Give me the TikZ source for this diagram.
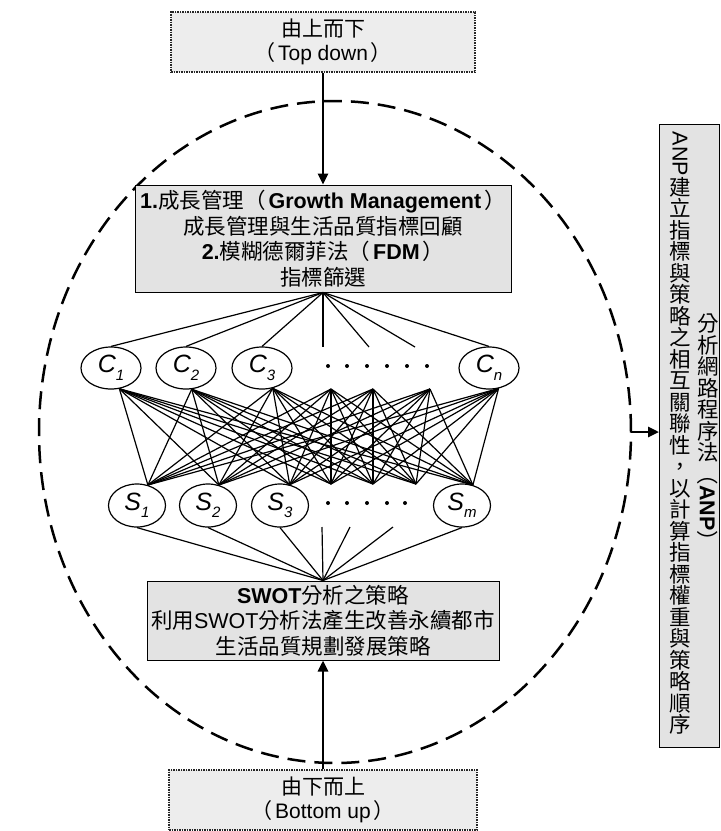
\documentclass[tikz,border=0pt]{standalone}
\usepackage{fontspec}
\setmainfont{Liberation Sans}
\newfontfamily\cjk{Noto Sans CJK TC}
\usetikzlibrary{shapes.geometric,arrows.meta}
\definecolor{boxgray}{HTML}{E3E3E3}
\definecolor{dotgray}{HTML}{EDEDED}
\newcommand{\subsc}[1]{\raisebox{-0.3em}{\fontsize{15}{15}\selectfont #1}}
\newcommand{\lp}{{\cjk （}\kern3pt}
\newcommand{\rp}{\kern3pt{\cjk ）}}
\tikzset{
  net/.style={line width=1.2pt},
  ellnode/.style={ellipse, draw, line width=1.2pt, inner sep=0pt, font=\fontsize{25}{26}\selectfont\itshape},
  cnode/.style={ellnode, minimum width=60pt, minimum height=42pt},
  snode/.style={ellnode, minimum width=57pt, minimum height=43pt},
  graybox/.style={draw, line width=1pt, fill=boxgray, align=center, inner sep=0pt, font=\fontsize{21.5}{25.5}\selectfont},
  dotbox/.style={draw=black!85, dash pattern=on 1.5pt off 1pt, line width=2pt, fill=dotgray, align=center, inner sep=0pt, font=\fontsize{21}{24}\selectfont},
  bigarrow/.style={line width=2.6pt, -{Triangle[length=11pt,width=10pt]}},
  colnode/.style={align=center, inner sep=0pt, font=\fontsize{21.5}{21.5}\selectfont\cjk},
}
\begin{document}
\begin{tikzpicture}[x=1pt,y=-1pt]
\useasboundingbox (0,0) rectangle (721,831);
% dashed ring
\node[ellipse, draw, line width=2.5pt, dash pattern=on 18pt off 9pt, minimum width=592pt, minimum height=662pt, inner sep=0pt] (ring) at (335,432) {};
% boxes
\node[dotbox, minimum width=304pt, minimum height=60pt] (topbox) at (323,42)
  {{\cjk 由上而下}\\\lp Top down\rp};
\node[graybox, minimum width=376pt, minimum height=107pt] (upbox) at (323,238.5)
  {\textbf{1.}{\cjk 成長管理}\lp\textbf{Growth Management}\rp\\
   {\cjk 成長管理與生活品質指標回顧}\\
   \textbf{2.}{\cjk 模糊德爾菲法}\lp\textbf{FDM}\rp\\
   {\cjk 指標篩選}};
\node[graybox, minimum width=352pt, minimum height=79pt] (botbox) at (323,620.5)
  {\textbf{SWOT}{\cjk 分析之策略}\\
   {\cjk 利用}SWOT{\cjk 分析法產生改善永續都市}\\
   {\cjk 生活品質規劃發展策略}};
\node[dotbox, minimum width=308pt, minimum height=60pt] (botdot) at (323,800)
  {{\cjk 由下而上}\\\lp Bottom up\rp};
\node[draw, line width=1pt, fill=boxgray, minimum width=60pt, minimum height=623pt, inner sep=0pt] (anp) at (689.5,435.5) {};
\node[colnode] (anpL) at (680,433)
  {\rotatebox[origin=c]{-90}{\rmfamily ANP}\\建\\立\\指\\標\\與\\策\\略\\之\\相\\互\\關\\聯\\性\\，\\以\\計\\算\\指\\標\\權\\重\\與\\策\\略\\順\\序};
\node[colnode] (anpR) at (708,433)
  {分\\析\\網\\路\\程\\序\\法\\\rotatebox[origin=c]{-90}{（{\rmfamily\bfseries ANP}）}};
% C row
\node[cnode] (C1) at (111,368) {C\subsc{1}};
\node[cnode] (C2) at (186,368) {C\subsc{2}};
\node[cnode] (C3) at (262,368) {C\subsc{3}};
\node[cnode] (Cn) at (489,368) {C\subsc{n}};
\foreach \x in {328,347,367,387,407,427} \fill (\x,366) circle (2pt);
\coordinate (ct1) at (323,347);
\coordinate (ct2) at (369,347);
\coordinate (ct3) at (415,347);
\coordinate (cb1) at (331,389);
\coordinate (cb2) at (373,389);
\coordinate (cb3) at (430,389);
% S row
\node[snode] (S1) at (137,505.5) {S\subsc{1}};
\node[snode] (S2) at (208,505.5) {S\subsc{2}};
\node[snode] (S3) at (280,505.5) {S\subsc{3}};
\node[snode] (Sm) at (462,505.5) {S\subsc{m}};
\foreach \x in {328,347,367,387,405} \fill (\x,503) circle (2pt);
\coordinate (st1) at (331,484);
\coordinate (st2) at (373,484);
\coordinate (st3) at (416,484);
\coordinate (sb1) at (322,527);
\coordinate (sb2) at (350,527);
\coordinate (sb3) at (393,527);
% fans
\foreach \t in {C1.north, C2.north, C3.north, ct1, ct2, ct3, Cn.north}
  \draw[net] (upbox.south) -- (\t);
\foreach \t in {S1.south, S2.south, S3.south, sb1, sb2, sb3, Sm.south}
  \draw[net] (botbox.north) -- (\t);
\foreach \a in {C1.-68, C2.-75, C3.-62, cb1, cb2, cb3, Cn.-65}
  \foreach \b in {S1.62, S2.62, S3.65, st1, st2, st3, Sm.62}
    \draw[net] (\a) -- (\b);
% arrows
\draw[bigarrow] (topbox.south) -- (upbox.north);
\draw[bigarrow] (botdot.north) -- (botbox.south);
\draw[bigarrow] ([xshift=-1.5pt]ring.east) -- (ring.east -| anp.west);
\end{tikzpicture}
\end{document}
